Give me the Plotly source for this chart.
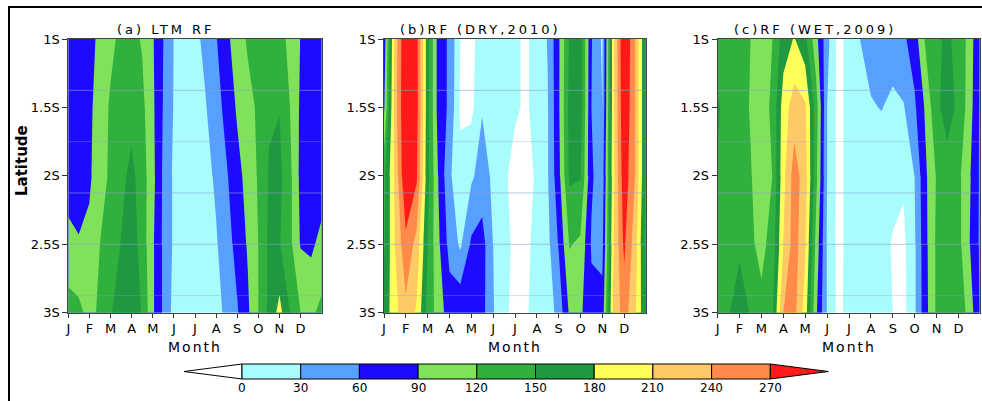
import plotly.graph_objects as go

# ---------------- data ----------------
MONTH_X = [0, 0.5, 1, 1.5, 2, 2.5, 3, 3.5, 4, 4.5, 5, 5.5, 6, 6.5, 7, 7.5,
           8, 8.5, 9, 9.5, 10, 10.5, 11, 11.5, 12]
LAT = [1.0, 1.5, 2.0, 2.5, 3.0]
MONTH_LABELS = ["J", "F", "M", "A", "M", "J", "J", "A", "S", "O", "N", "D"]
MONTH_TICKS = [0, 1, 2, 3, 4, 5, 6, 7, 8, 9, 10, 11]
LAT_TICKS = [1.0, 1.5, 2.0, 2.5, 3.0]
LAT_LABELS = ["1S", "1.5S", "2S", "2.5S", "3S"]
LEVELS = [0, 30, 60, 90, 120, 150, 180, 210, 240, 270]
LEVEL_COLORS = ["#FFFFFF", "#A8FCFC", "#58A0FF", "#1E0AFF", "#80E25A",
                "#30B03C", "#1F983F", "#FFFF5A", "#FFCA66", "#FF8A4A", "#FF1A1A"]

# (a) long-term mean rainfall (rows follow LAT)
LTM_RF = [
    [70, 75, 82, 96, 113, 127, 130, 117, 93, 60, 29, 18, 22, 38, 58, 83, 105, 124, 135, 138, 130, 113, 89, 75, 72],
    [72, 76, 84, 104, 124, 135, 140, 128, 96, 58, 28, 15, 18, 28, 48, 70, 94, 110, 125, 147, 149, 120, 85, 74, 72],
    [75, 78, 86, 105, 126, 142, 158, 135, 100, 55, 25, 12, 10, 20, 35, 57, 80, 101, 123, 152, 158, 128, 82, 74, 72],
    [100, 92, 96, 120, 135, 151, 165, 138, 95, 55, 25, 10, 5, 12, 27, 47, 70, 93, 120, 155, 152, 128, 88, 84, 100],
    [132, 128, 110, 126, 148, 162, 168, 148, 95, 55, 20, 5, 2, 8, 20, 37, 57, 85, 120, 157, 190, 150, 120, 115, 127],
]
# (b) dry year 2010
DRY_2010 = [
    [70, 220, 305, 280, 160, 75, 55, 0, -8, 15, 18, 15, 4, -4, 10, 32, 85, 155, 165, 62, 25, 200, 305, 240, 145],
    [85, 225, 305, 282, 160, 75, 55, -5, -8, 28, 22, 18, 4, -4, 10, 28, 85, 160, 165, 60, 30, 200, 300, 240, 145],
    [140, 215, 300, 275, 160, 88, 35, 10, 25, 42, 25, 5, -10, -8, 3, 28, 80, 155, 152, 65, 40, 200, 290, 240, 145],
    [145, 210, 262, 230, 150, 95, 50, 25, 65, 72, 30, 12, -8, -6, 8, 22, 62, 122, 115, 57, 50, 205, 276, 225, 140],
    [160, 200, 232, 205, 140, 105, 75, 85, 75, 70, 32, 8, -10, -3, 10, 15, 40, 95, 95, 68, 72, 215, 255, 215, 150],
]
# (c) wet year 2009
WET_2009 = [
    [125, 130, 132, 120, 110, 120, 165, 182, 158, 100, 40, -8, 8, 30, 40, 45, 48, 55, 75, 125, 145, 155, 140, 110, 55],
    [155, 132, 132, 118, 108, 125, 195, 225, 215, 135, 30, -8, 8, 20, 28, 31, 22, 28, 55, 95, 145, 160, 145, 105, 55],
    [145, 130, 132, 122, 105, 120, 200, 255, 225, 130, 30, -8, 8, 18, 15, 12, 8, 4, 30, 85, 122, 140, 128, 95, 55],
    [130, 130, 145, 125, 112, 130, 210, 255, 215, 110, 28, -8, 8, 15, 12, 8, -2, -6, 25, 82, 125, 138, 130, 92, 55],
    [132, 148, 165, 148, 128, 145, 240, 250, 195, 95, 28, -8, 10, 15, 12, 10, 0, -8, 25, 80, 125, 140, 138, 110, 55],
]
TITLES = ["(a) LTM RF", "(b)RF (DRY,2010)", "(c)RF (WET,2009)"]
GRID_LATS = [1.375, 1.75, 2.125, 2.5, 2.875]

# ---------------- layout helpers ----------------
W, H = 982, 401
FONT = "DejaVu Sans"


def px(x):
    return x / W


def py(y):
    return 1 - y / H


panels_px = [(68.3, 321.7), (384.0, 646.0), (717.7, 980.3)]
title_x = [166, 480, 815]
top_px, bot_px = 39.0, 312.7

n = len(LEVEL_COLORS) - 1
colorscale = [[k / n, c] for k, c in enumerate(LEVEL_COLORS)]

fig = go.Figure()
datasets = [LTM_RF, DRY_2010, WET_2009]
annotations = []
shapes = []

for i, (z, (x0, x1)) in enumerate(zip(datasets, panels_px)):
    ax = "" if i == 0 else str(i + 1)
    fig.add_trace(go.Contour(
        x=MONTH_X, y=LAT, z=z,
        xaxis="x" + ax, yaxis="y" + ax,
        colorscale=colorscale, showscale=False,
        contours=dict(start=LEVELS[0], end=LEVELS[-1], size=LEVELS[1] - LEVELS[0],
                      coloring="fill", showlines=False),
        line=dict(width=0, smoothing=0),
        hoverinfo="skip",
    ))
    xa = dict(domain=[px(x0), px(x1)], range=[0, 12], tickvals=MONTH_TICKS,
              ticktext=MONTH_LABELS, ticks="outside", ticklen=4, tickcolor="#333",
              showline=True, linecolor="#444", linewidth=1, mirror=True,
              showgrid=False, zeroline=False, automargin=False,
              tickfont=dict(family=FONT, size=13, color="black"),
              anchor="y" + ax)
    ya = dict(domain=[py(bot_px), py(top_px)], range=[3, 1], tickvals=LAT_TICKS,
              ticktext=LAT_LABELS, ticks="outside", ticklen=5, tickcolor="#333",
              showline=True, linecolor="#444", linewidth=1, mirror=True,
              showgrid=False, zeroline=False, automargin=False,
              tickfont=dict(family=FONT, size=13, color="black"),
              anchor="x" + ax)
    fig.layout["xaxis" + ax] = xa
    fig.layout["yaxis" + ax] = ya
    # faint horizontal grid lines drawn over the shading
    for j, gl in enumerate(GRID_LATS):
        op = 0.35 if j in (1, 4) else 0.6
        shapes.append(dict(type="line", xref="paper", yref="y" + ax,
                           x0=px(x0), x1=px(x1), y0=gl, y1=gl,
                           line=dict(color="rgba(140,160,210,%.2f)" % op, width=1)))
    # title
    annotations.append(dict(
        text='<span style="letter-spacing:3px">%s</span>' % TITLES[i],
        xref="paper", yref="paper", x=px(title_x[i]),
        y=py(29), showarrow=False, xanchor="center", yanchor="middle",
        font=dict(family=FONT, size=13, color="black")))
    annotations.append(dict(
        text='<span style="letter-spacing:2px">Month</span>',
        xref="paper", yref="paper", x=px((x0 + x1) / 2), y=py(347),
        showarrow=False, xanchor="center", yanchor="middle",
        font=dict(family=FONT, size=14, color="black")))

annotations.append(dict(
    text="<b>Latitude</b>", xref="paper", yref="paper", x=px(22), y=py(161),
    showarrow=False, textangle=-90, xanchor="center", yanchor="middle",
    font=dict(family=FONT, size=15, color="black")))

# ---------------- manual colour key ----------------
cb_left, cb_w, cb_top, cb_bot = 242.0, 58.7, 364.0, 379.0
cb_mid = (cb_top + cb_bot) / 2
tip_len = 58.0
shapes.append(dict(type="path", xref="paper", yref="paper",
                   path="M %f %f L %f %f L %f %f Z" % (px(cb_left), py(cb_top),
                                                       px(cb_left - tip_len), py(cb_mid),
                                                       px(cb_left), py(cb_bot)),
                   fillcolor=LEVEL_COLORS[0], line=dict(color="black", width=1)))
for k in range(len(LEVELS) - 1):
    shapes.append(dict(type="rect", xref="paper", yref="paper",
                       x0=px(cb_left + k * cb_w), x1=px(cb_left + (k + 1) * cb_w),
                       y0=py(cb_bot), y1=py(cb_top),
                       fillcolor=LEVEL_COLORS[k + 1], line=dict(color="black", width=1)))
right_x = cb_left + (len(LEVELS) - 1) * cb_w
shapes.append(dict(type="path", xref="paper", yref="paper",
                   path="M %f %f L %f %f L %f %f Z" % (px(right_x), py(cb_top),
                                                       px(right_x + tip_len), py(cb_mid),
                                                       px(right_x), py(cb_bot)),
                   fillcolor=LEVEL_COLORS[-1], line=dict(color="black", width=1)))
for k, lv in enumerate(LEVELS):
    annotations.append(dict(text=str(lv), xref="paper", yref="paper",
                            x=px(cb_left + k * cb_w), y=py(388), showarrow=False,
                            xanchor="center", yanchor="middle",
                            font=dict(family=FONT, size=12, color="black")))

# page frame (left and top rules)
shapes.append(dict(type="line", xref="paper", yref="paper", x0=px(9), x1=px(9),
                   y0=py(6.5), y1=0, line=dict(color="black", width=2)))
shapes.append(dict(type="line", xref="paper", yref="paper", x0=px(8), x1=1,
                   y0=py(7), y1=py(7), line=dict(color="black", width=2)))

fig.update_layout(width=W, height=H,
                  margin=dict(l=0, r=0, t=0, b=0, pad=0, autoexpand=False),
                  paper_bgcolor="white", plot_bgcolor="white",
                  shapes=shapes, annotations=annotations, showlegend=False)

fig.write_html("out.html", config={"displayModeBar": False},
               post_script="document.body.style.margin='0px';")
